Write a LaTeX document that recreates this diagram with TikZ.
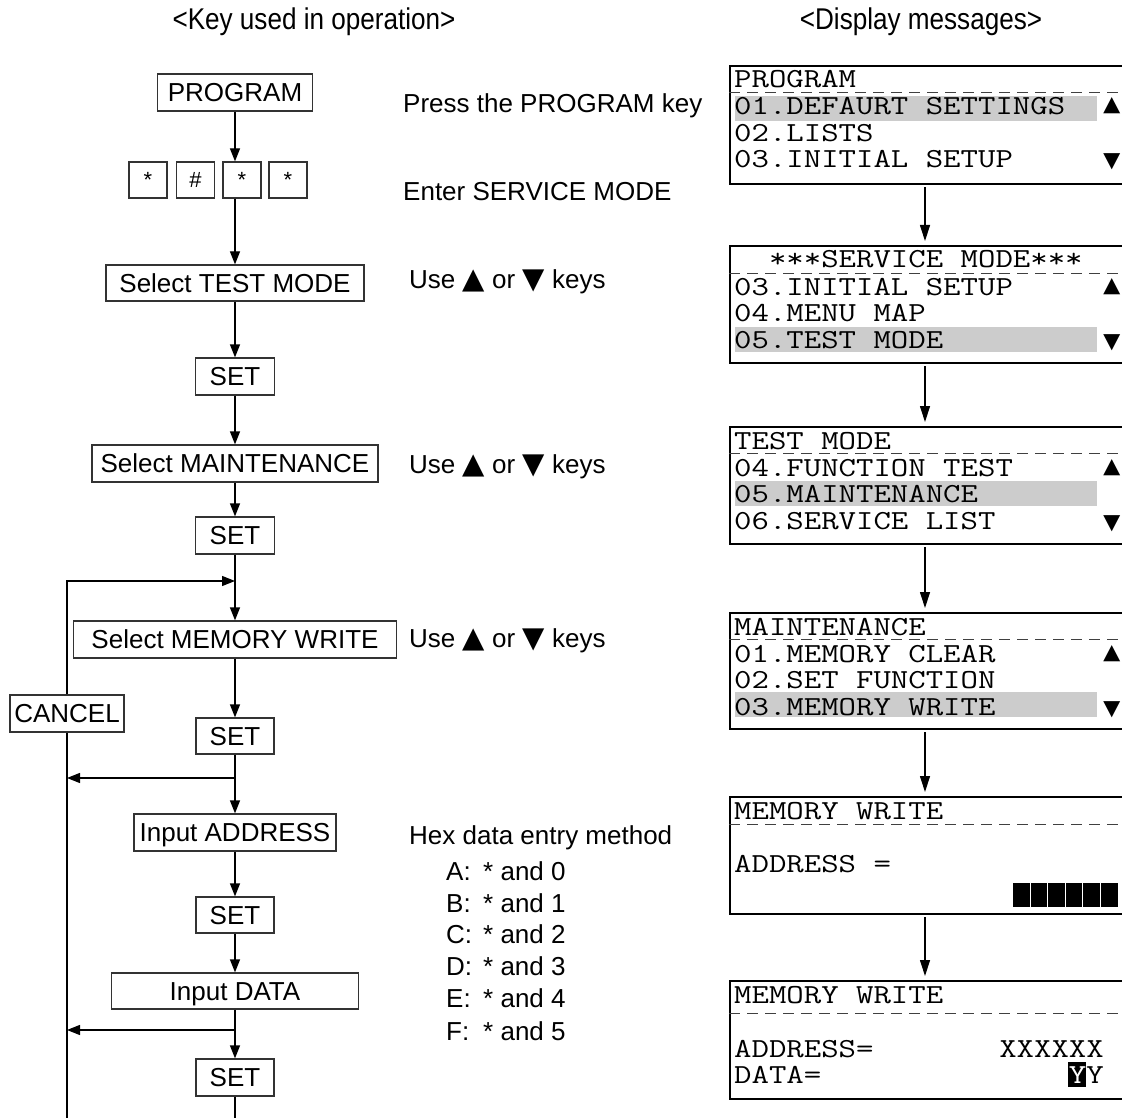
\documentclass[tikz,border=0pt]{standalone}
\usepackage{fontspec}
\setmainfont{Liberation Sans}
\newfontfamily\monofam[FakeStretch=1.23]{Latin Modern Mono}
\newfontfamily\trimono{Liberation Mono}
\newfontfamily\trisans{DejaVu Sans}
\usetikzlibrary{arrows.meta}
\definecolor{hl}{gray}{0.8}
\definecolor{boxline}{gray}{0.2}
\newcommand{\bigtri}[1]{{\trisans\fontsize{29}{30}\selectfont #1}}
\begin{document}
\begin{tikzpicture}[x=1pt,y=-1pt,
  key/.style={draw=boxline, line width=1.2pt, inner sep=0pt, font=\fontsize{26}{30}\selectfont,
    minimum height=37pt, text height=18.8pt, text depth=0pt},
  smallkey/.style={key, minimum width=38pt, minimum height=36pt, font=\fontsize{22}{26}\selectfont,
    text height=15.8pt},
  flow/.style={-{Triangle[length=13pt,width=10pt]}, line width=1.2pt},
  conn/.style={line width=1.2pt},
  side/.style={anchor=base west, inner sep=0pt, font=\fontsize{26}{30}\selectfont},
  head/.style={inner sep=0pt, font=\fontsize{30}{34}\selectfont},
  disp/.style={draw=black, line width=2.2pt, minimum width=406pt, anchor=north west, inner sep=0pt},
  dtext/.style={anchor=base west, inner sep=0pt, font=\monofam\fontsize{27.5}{28}\selectfont},
  dtri/.style={anchor=base west, inner sep=0pt, font=\trimono\fontsize{29}{30}\selectfont},
  darrow/.style={-{Triangle[length=16pt,width=10pt]}, line width=1.2pt, shorten <=2pt, shorten >=4pt},
  dashline/.style={dash pattern=on 11pt off 7pt, line width=1pt, draw=black!75}
]
\useasboundingbox (0,0) rectangle (1122,1118);
\clip (0,0) rectangle (1122,1118);

% headers
\node[head] (h1) at (314,22) {\scalebox{0.87}[1]{<Key used in operation>}};
\node[head] (h2) at (921,22) {\scalebox{0.87}[1]{<Display messages>}};

% flow boxes
\node[key, minimum width=155pt] (prog) at (235,92.5) {PROGRAM};
\node[smallkey] (k1) at (148,180) {*};
\node[smallkey] (k2) at (195.5,180) {\#};
\node[smallkey] (k3) at (242,180) {*};
\node[smallkey] (k4) at (288,180) {*};
\node[key, minimum width=258pt, minimum height=36pt] (seltest) at (235,283) {Select TEST MODE};
\node[key, minimum width=79pt] (set1) at (235,376.5) {SET};
\node[key, minimum width=286pt] (selmaint) at (235,463.5) {Select MAINTENANCE};
\node[key, minimum width=79pt] (set2) at (235,535.5) {SET};
\node[key, minimum width=323pt] (selmem) at (235,639.5) {Select MEMORY WRITE};
\node[key, minimum width=78pt, minimum height=36pt] (set3) at (235,736) {SET};
\node[key, minimum width=202pt] (inaddr) at (235,832.5) {Input ADDRESS};
\node[key, minimum width=78pt, minimum height=36pt] (set4) at (235,915) {SET};
\node[key, minimum width=247pt, minimum height=36pt] (indata) at (235,991) {Input DATA};
\node[key, minimum width=78pt] (set5) at (235,1077.5) {SET};
\node[key, minimum width=114pt] (cancel) at (67,713.5) {CANCEL};

\coordinate (j1) at (235,581);
\coordinate (j2) at (235,778);
\coordinate (j3) at (235,1030);
\coordinate (bl) at (67,1130);
\coordinate (br) at (235,1130);

\draw[flow] (prog.south) -- (prog.south |- k3.north);
\draw[flow] (k3.south -| seltest.north) -- (seltest.north);
\draw[flow] (seltest) -- (set1);
\draw[flow] (set1) -- (selmaint);
\draw[flow] (selmaint) -- (set2);
\draw[flow] (set2) -- (selmem);
\draw[flow] (selmem) -- (set3);
\draw[flow] (set3) -- (inaddr);
\draw[flow] (inaddr) -- (set4);
\draw[flow] (set4) -- (indata);
\draw[flow] (indata) -- (set5);
\draw[conn] (set5) -- (br);
\draw[flow] (cancel.north) |- (j1);
\draw[flow] (j2) -- (j2 -| cancel.south);
\draw[flow] (j3) -- (j3 -| cancel.south);
\draw[conn] (cancel.south) -- (bl);

% side texts
\node[side] (t1) at (403,113) {Press the PROGRAM key};
\node[side] (t2) at (403,201) {Enter SERVICE MODE};
\node[side] (t3) at (409,288) {Use \bigtri{▲} or \bigtri{▼} keys};
\node[side] (t4) at (409,473) {Use \bigtri{▲} or \bigtri{▼} keys};
\node[side] (t5) at (409,647) {Use \bigtri{▲} or \bigtri{▼} keys};
\node[side] (t6) at (409,844) {Hex data entry method};
\node[side] (ha) at (446,880) {\makebox[37pt][l]{A:}* and 0};
\node[side] (hb) at (446,912) {\makebox[37pt][l]{B:}* and 1};
\node[side] (hc) at (446,943.5) {\makebox[37pt][l]{C:}* and 2};
\node[side] (hd) at (446,975.5) {\makebox[37pt][l]{D:}* and 3};
\node[side] (he) at (446,1007.5) {\makebox[37pt][l]{E:}* and 4};
\node[side] (hf) at (446,1040) {\makebox[37pt][l]{F:}* and 5};

% display highlight rows
\fill[hl] (735,96) rectangle (1097,121);
\fill[hl] (735,327) rectangle (1097,352);
\fill[hl] (735,481) rectangle (1097,506);
\fill[hl] (735,692) rectangle (1097,717);

% display boxes
\node[disp, minimum height=118pt] (d1) at (729,65) {};
\node[disp, minimum height=117pt] (d2) at (729,245) {};
\node[disp, minimum height=117pt] (d3) at (729,426) {};
\node[disp, minimum height=116pt] (d4) at (729,612) {};
\node[disp, minimum height=117pt] (d5) at (729,796) {};
\node[disp, minimum height=118pt] (d6) at (729,980) {};

\coordinate (dx) at (925,0);
\draw[darrow] (d1.south -| dx) -- (d2.north -| dx);
\draw[darrow] (d2.south -| dx) -- (d3.north -| dx);
\draw[darrow] (d3.south -| dx) -- (d4.north -| dx);
\draw[darrow] (d4.south -| dx) -- (d5.north -| dx);
\draw[darrow] (d5.south -| dx) -- (d6.north -| dx);

% dashed separators
\draw[dashline] (729,93) -- (1122,93);
\draw[dashline] (729,273) -- (1122,273);
\draw[dashline] (729,453) -- (1122,453);
\draw[dashline] (729,639) -- (1122,639);
\draw[dashline] (729,824) -- (1122,824);
\draw[dashline] (729,1013) -- (1122,1013);

% display 1
\node[dtext] at (734,88) {PROGRAM};
\node[dtext] at (734,115) {01.DEFAURT SETTINGS};
\node[dtext] at (734,141.5) {02.LISTS};
\node[dtext] at (734,168) {03.INITIAL SETUP};
\node[dtri] at (1103,115) {▲};
\node[dtri] at (1103,170) {▼};
% display 2
\node[dtext] at (734,268) {\ \ ***SERVICE MODE***};
\node[dtext] at (734,295) {03.INITIAL SETUP};
\node[dtext] at (734,321.5) {04.MENU MAP};
\node[dtext] at (734,348) {05.TEST MODE};
\node[dtri] at (1103,295) {▲};
\node[dtri] at (1103,350) {▼};
% display 3
\node[dtext] at (734,449) {TEST MODE};
\node[dtext] at (734,476) {04.FUNCTION TEST};
\node[dtext] at (734,502.5) {05.MAINTENANCE};
\node[dtext] at (734,529) {06.SERVICE LIST};
\node[dtri] at (1103,476) {▲};
\node[dtri] at (1103,531) {▼};
% display 4
\node[dtext] at (734,635) {MAINTENANCE};
\node[dtext] at (734,662) {01.MEMORY CLEAR};
\node[dtext] at (734,688.5) {02.SET FUNCTION};
\node[dtext] at (734,715) {03.MEMORY WRITE};
\node[dtri] at (1103,662) {▲};
\node[dtri] at (1103,717) {▼};
% display 5
\node[dtext] at (734,819) {MEMORY WRITE};
\node[dtext] at (734,872) {ADDRESS =};
\foreach \i in {0,...,5} {
  \fill (1013+\i*17.6,883) rectangle ++(16.6,24);
}
% display 6
\node[dtext] at (734,1003) {MEMORY WRITE};
\node[dtext] at (734,1057) {ADDRESS=};
\node[dtext, anchor=base east] at (1104,1057) {XXXXXX};
\node[dtext] at (734,1083) {DATA=};
\fill (1068,1062) rectangle (1086,1087);
\node[dtext, anchor=base east] at (1104,1083) {\textcolor{white}{Y}Y};
\end{tikzpicture}
\end{document}
